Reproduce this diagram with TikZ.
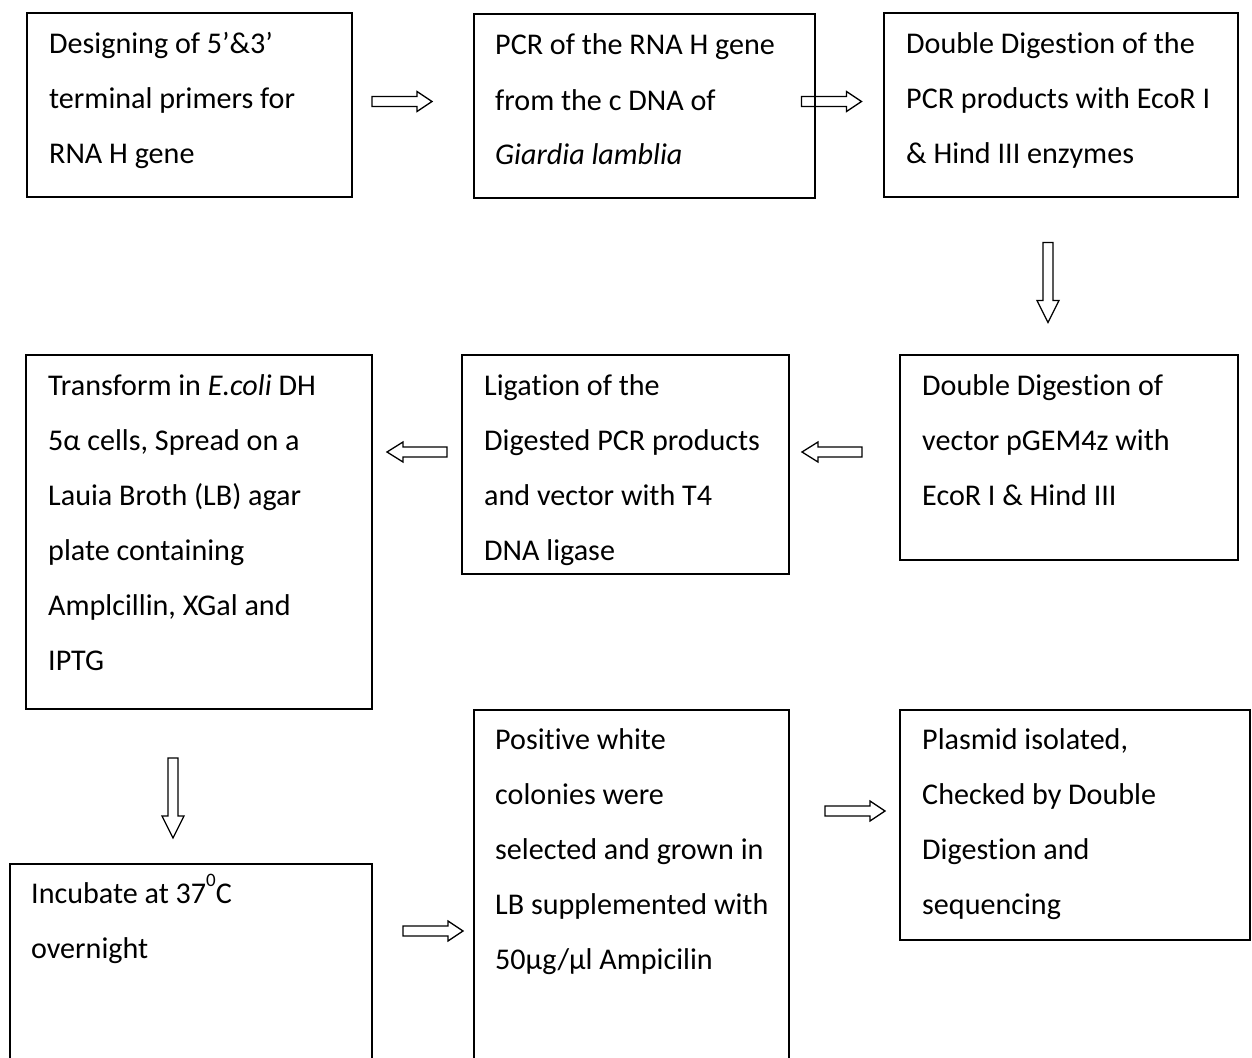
\documentclass[tikz,border=0pt]{standalone}
\usepackage{fontspec}
\setmainfont{Carlito}[Ligatures={NoCommon}]
\newcommand\boxlines[1]{\parbox[t]{12cm}{\raggedright #1}}
\tikzset{
  x=1pt, y=-1pt,
  box/.style={draw, line width=1.6pt, anchor=north west, inner sep=0pt, outer sep=0pt},
  txt/.style={anchor=base west, inner sep=0pt, font=\fontsize{30.1}{55}\selectfont},
  blk/.style={draw, line width=1.3pt, line join=miter},
  arrR/.pic={\draw[blk] (-30,-5) -- (15,-5) -- (15,-10) -- (30,0) -- (15,10) -- (15,5) -- (-30,5) -- cycle;},
  arrL/.pic={\draw[blk] (30,-5) -- (-14,-5) -- (-14,-10) -- (-30,0) -- (-14,10) -- (-14,5) -- (30,5) -- cycle;},
  arrD/.pic={\draw[blk] (-5,-40) -- (-5,18) -- (-11,18) -- (0,40) -- (11,18) -- (5,18) -- (5,-40) -- cycle;},
}
\begin{document}
\begin{tikzpicture}
\useasboundingbox (0,0) rectangle (1252,1057);
\clip (0,0) rectangle (1252,1057);
% boxes
\node[box, minimum width=325pt, minimum height=184pt] (A) at (27,13) {};
\node[box, minimum width=341pt, minimum height=184pt] (B) at (474,14) {};
\node[box, minimum width=354pt, minimum height=184pt] (C) at (884,13) {};
\node[box, minimum width=338pt, minimum height=205pt] (D) at (900,355) {};
\node[box, minimum width=327pt, minimum height=219pt] (E) at (462,355) {};
\node[box, minimum width=346pt, minimum height=354pt] (F) at (26,355) {};
\node[box, minimum width=362pt, minimum height=260pt] (G) at (10,864) {};
\node[box, minimum width=315pt, minimum height=400pt] (H) at (474,710) {};
\node[box, minimum width=350pt, minimum height=230pt] (I) at (900,710) {};
% texts
\node[txt] (tA) at ([shift={(22,40)}]A.north west) {\boxlines{Designing of 5’\&3’\\terminal primers for\\RNA H gene}};
\node[txt] (tB) at ([shift={(21,41)}]B.north west) {\boxlines{PCR of the RNA H gene\\from the c DNA of\\\textit{Giardia lamblia}}};
\node[txt] (tC) at ([shift={(22,40)}]C.north west) {\boxlines{Double Digestion of the\\PCR products with EcoR I\\\& Hind III enzymes}};
\node[txt] (tD) at ([shift={(22,40)}]D.north west) {\boxlines{Double Digestion of\\vector pGEM4z with\\EcoR I \& Hind III}};
\node[txt] (tE) at ([shift={(22,40)}]E.north west) {\boxlines{Ligation of the\\Digested PCR products\\and vector with T4\\DNA ligase}};
\node[txt] (tF) at ([shift={(22,40)}]F.north west) {\boxlines{Transform in \textit{E.coli} DH\\5α cells, Spread on a\\Lauia Broth (LB) agar\\plate containing\\Amplcillin, XGal and\\IPTG}};
\node[txt] (tG) at ([shift={(21,39)}]G.north west) {\boxlines{Incubate at 37\raisebox{0.55em}{\fontsize{19}{19}\selectfont 0}C\\overnight}};
\node[txt] (tH) at ([shift={(21,39)}]H.north west) {\boxlines{Positive white\\colonies were\\selected and grown in\\LB supplemented with\\50µg/µl Ampicilin}};
\node[txt] (tI) at ([shift={(22,39)}]I.north west) {\boxlines{Plasmid isolated,\\Checked by Double\\Digestion and\\sequencing}};
% block arrows
\pic at (402,101.5) {arrR};
\pic at (831.5,101.5) {arrR};
\pic at (1048,282.5) {arrD};
\pic at (832,452) {arrL};
\pic at (417,452) {arrL};
\pic at (173,798) {arrD};
\pic at (433,931) {arrR};
\pic at (855,811) {arrR};
\end{tikzpicture}
\end{document}
